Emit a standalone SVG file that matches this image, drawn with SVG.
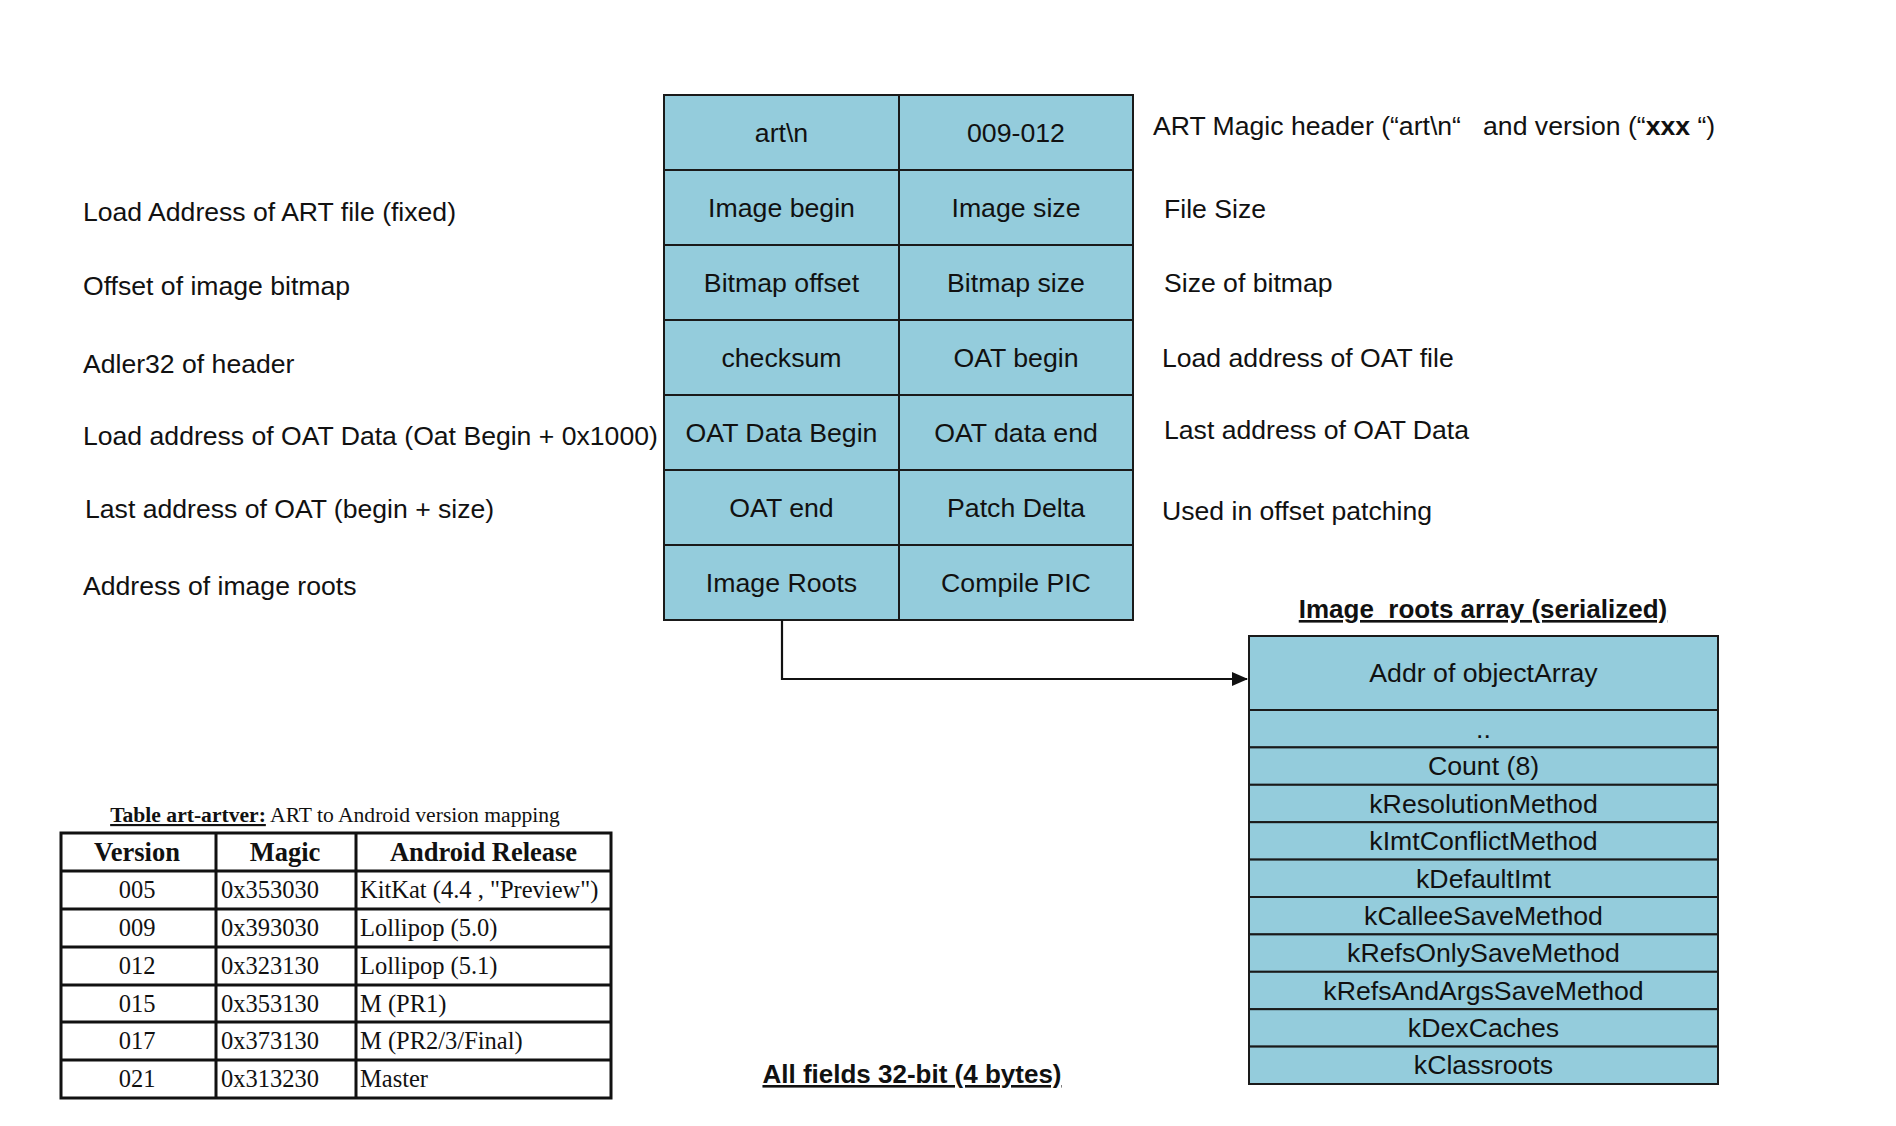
<svg xmlns="http://www.w3.org/2000/svg" width="1896" height="1126" viewBox="0 0 1896 1126">
<style>
.cell{fill:#94CCDC;stroke:#1a1a1a;stroke-width:2}
.ct{font-family:"Liberation Sans",Arial,sans-serif;font-size:26.7px;fill:#111;text-anchor:middle}
.lbl{font-family:"Liberation Sans",Arial,sans-serif;font-size:26.6px;fill:#111}
.ttl{font-family:"Liberation Sans",Arial,sans-serif;font-size:26px;font-weight:bold;fill:#111;text-decoration:underline}
.tb{fill:none;stroke:#111;stroke-width:3}
.tt{font-family:"Liberation Serif","Times New Roman",serif;font-size:24.5px;fill:#111}
.cap{font-family:"Liberation Serif","Times New Roman",serif;font-size:21.6px;fill:#111;text-anchor:middle}
.th{font-family:"Liberation Serif","Times New Roman",serif;font-size:26.5px;font-weight:bold;fill:#111;text-anchor:middle}
.conn{fill:none;stroke:#111;stroke-width:2.2}
</style>
<defs>
<marker id="ah" markerUnits="userSpaceOnUse" markerWidth="16" markerHeight="14" viewBox="0 0 16 14" refX="15" refY="7" orient="auto">
<path d="M0,0 L16,7 L0,14 z" fill="#111"/>
</marker>
</defs>
<rect width="1896" height="1126" fill="#fff"/>

<!-- Header table -->
<g id="header">
<g id="c-magic"><rect class="cell" x="664" y="95" width="235" height="75"/><text class="ct" x="781.5" y="141.5">art\n</text></g>
<g id="c-version"><rect class="cell" x="899" y="95" width="234" height="75"/><text class="ct" x="1016" y="141.5">009-012</text></g>
<g id="c-imgbegin"><rect class="cell" x="664" y="170" width="235" height="75"/><text class="ct" x="781.5" y="216.5">Image begin</text></g>
<g id="c-imgsize"><rect class="cell" x="899" y="170" width="234" height="75"/><text class="ct" x="1016" y="216.5">Image size</text></g>
<g id="c-bmoff"><rect class="cell" x="664" y="245" width="235" height="75"/><text class="ct" x="781.5" y="291.5">Bitmap offset</text></g>
<g id="c-bmsize"><rect class="cell" x="899" y="245" width="234" height="75"/><text class="ct" x="1016" y="291.5">Bitmap size</text></g>
<g id="c-checksum"><rect class="cell" x="664" y="320" width="235" height="75"/><text class="ct" x="781.5" y="366.5">checksum</text></g>
<g id="c-oatbegin"><rect class="cell" x="899" y="320" width="234" height="75"/><text class="ct" x="1016" y="366.5">OAT begin</text></g>
<g id="c-oatdatabegin"><rect class="cell" x="664" y="395" width="235" height="75"/><text class="ct" x="781.5" y="441.5">OAT Data Begin</text></g>
<g id="c-oatdataend"><rect class="cell" x="899" y="395" width="234" height="75"/><text class="ct" x="1016" y="441.5">OAT data end</text></g>
<g id="c-oatend"><rect class="cell" x="664" y="470" width="235" height="75"/><text class="ct" x="781.5" y="516.5">OAT end</text></g>
<g id="c-patchdelta"><rect class="cell" x="899" y="470" width="234" height="75"/><text class="ct" x="1016" y="516.5">Patch Delta</text></g>
<g id="c-imageroots"><rect class="cell" x="664" y="545" width="235" height="75"/><text class="ct" x="781.5" y="591.5">Image Roots</text></g>
<g id="c-compilepic"><rect class="cell" x="899" y="545" width="234" height="75"/><text class="ct" x="1016" y="591.5">Compile PIC</text></g>
</g>

<!-- Left labels -->
<g id="left-labels">
<text class="lbl" x="83" y="221">Load Address of ART file (fixed)</text>
<text class="lbl" x="83" y="295">Offset of image bitmap</text>
<text class="lbl" x="83" y="373">Adler32 of header</text>
<text class="lbl" x="83" y="445">Load address of OAT Data (Oat Begin + 0x1000)</text>
<text class="lbl" x="85" y="518">Last address of OAT (begin + size)</text>
<text class="lbl" x="83" y="595">Address of image roots</text>
</g>

<!-- Right labels -->
<g id="right-labels">
<text class="lbl" x="1153" y="135">ART Magic header (“art\n“&#160;&#160; and version (“<tspan font-weight="bold">xxx</tspan> “)</text>
<text class="lbl" x="1164" y="218">File Size</text>
<text class="lbl" x="1164" y="292">Size of bitmap</text>
<text class="lbl" x="1162" y="367">Load address of OAT file</text>
<text class="lbl" x="1164" y="439">Last address of OAT Data</text>
<text class="lbl" x="1162" y="520">Used in offset patching</text>
</g>

<!-- Image roots array -->
<g id="image-roots-title"><text class="ttl" x="1483" y="618" text-anchor="middle">Image_roots array (serialized)</text></g>
<g id="image-roots">
<g id="r-addr"><rect class="cell" x="1249" y="636" width="469" height="74"/><text class="ct" x="1483.5" y="682">Addr of objectArray</text></g>
<g id="r-dots"><rect class="cell" x="1249" y="710" width="469" height="37.4"/><text class="ct" x="1483.5" y="738">..</text></g>
<g id="r-count"><rect class="cell" x="1249" y="747.4" width="469" height="37.4"/><text class="ct" x="1483.5" y="775">Count (8)</text></g>
<g id="r-kres"><rect class="cell" x="1249" y="784.8" width="469" height="37.4"/><text class="ct" x="1483.5" y="812.5">kResolutionMethod</text></g>
<g id="r-kimt"><rect class="cell" x="1249" y="822.2" width="469" height="37.4"/><text class="ct" x="1483.5" y="850">kImtConflictMethod</text></g>
<g id="r-kdef"><rect class="cell" x="1249" y="859.6" width="469" height="37.4"/><text class="ct" x="1483.5" y="887.5">kDefaultImt</text></g>
<g id="r-kcallee"><rect class="cell" x="1249" y="897" width="469" height="37.4"/><text class="ct" x="1483.5" y="925">kCalleeSaveMethod</text></g>
<g id="r-krefsonly"><rect class="cell" x="1249" y="934.4" width="469" height="37.4"/><text class="ct" x="1483.5" y="962">kRefsOnlySaveMethod</text></g>
<g id="r-krefsargs"><rect class="cell" x="1249" y="971.8" width="469" height="37.4"/><text class="ct" x="1483.5" y="999.5">kRefsAndArgsSaveMethod</text></g>
<g id="r-kdex"><rect class="cell" x="1249" y="1009.2" width="469" height="37.4"/><text class="ct" x="1483.5" y="1037">kDexCaches</text></g>
<g id="r-kclass"><rect class="cell" x="1249" y="1046.6" width="469" height="37.4"/><text class="ct" x="1483.5" y="1074">kClassroots</text></g>
</g>

<!-- Connectors -->
<g id="connectors">
<path class="conn" d="M782,620 V679 H1247" marker-end="url(#ah)"/>
</g>

<!-- Footer note -->
<g id="note"><text class="ttl" x="912" y="1083" text-anchor="middle">All fields 32-bit (4 bytes)</text></g>

<!-- Version table -->
<g id="version-table">
<text class="cap" x="335" y="822"><tspan font-weight="bold" text-decoration="underline">Table art-artver:</tspan> ART to Android version mapping</text>
<rect class="tb" x="61" y="833" width="550" height="265"/>
<path class="tb" d="M216,833 V1098 M356,833 V1098 M61,871 H611 M61,909 H611 M61,947 H611 M61,985 H611 M61,1022 H611 M61,1060 H611"/>
<text class="th" x="137" y="861">Version</text>
<text class="th" x="285" y="861">Magic</text>
<text class="th" x="483.5" y="861">Android Release</text>
<g class="tt">
<text x="137" y="898" text-anchor="middle">005</text><text x="221" y="898">0x353030</text><text x="360" y="898">KitKat (4.4 , "Preview")</text>
<text x="137" y="936" text-anchor="middle">009</text><text x="221" y="936">0x393030</text><text x="360" y="936">Lollipop (5.0)</text>
<text x="137" y="974" text-anchor="middle">012</text><text x="221" y="974">0x323130</text><text x="360" y="974">Lollipop (5.1)</text>
<text x="137" y="1012" text-anchor="middle">015</text><text x="221" y="1012">0x353130</text><text x="360" y="1012">M (PR1)</text>
<text x="137" y="1049" text-anchor="middle">017</text><text x="221" y="1049">0x373130</text><text x="360" y="1049">M (PR2/3/Final)</text>
<text x="137" y="1087" text-anchor="middle">021</text><text x="221" y="1087">0x313230</text><text x="360" y="1087">Master</text>
</g>
</g>
</svg>
